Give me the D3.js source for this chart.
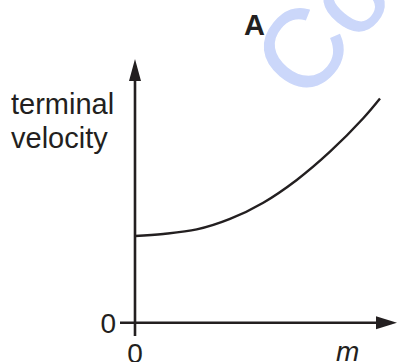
<!DOCTYPE html>
<html>
<head>
<meta charset="utf-8">
<script src="https://cdn.jsdelivr.net/npm/d3@7"></script>
<style>
  body { margin: 0; background: #fff; }
  svg { display: block; font-family: "Liberation Sans", Arial, sans-serif; }
</style>
</head>
<body>
<div id="chartDiv"></div>
<script>
// data (arbitrary units)
const massValues     = [0, 1.13, 2.47, 3.8, 5.13, 6.47, 7.8, 9.13, 9.8];
const velocityValues = [3.47, 3.55, 3.73, 4.15, 4.8, 5.71, 6.84, 8.18, 8.97];
const xTickLabels = ['0'];
const yTickLabels = ['0'];
const yLabelLines = ['terminal', 'velocity'];
const xLabel = 'm';
const graphLabel = 'A';
const watermark = 'Co';

const width = 397, height = 362;
const ink = '#231f20';

const svg = d3.select('#chartDiv').append('svg')
  .attr('width', width)
  .attr('height', height);

// scales
const xScale = d3.scaleLinear().domain([0, 10]).range([135, 385]);
const yScale = d3.scaleLinear().domain([0, 10]).range([322.7, 72.7]);

// watermark behind everything
svg.append('text')
  .attr('transform', 'translate(301.5,47.5) rotate(-50)')
  .attr('x', -41).attr('y', 40)
  .attr('font-size', 110)
  .attr('fill', '#cbd7fa')
  .attr('stroke', '#cbd7fa')
  .attr('stroke-width', 1.4)
  .text(watermark);

//axes
const x0 = xScale(0), y0 = yScale(0);
const xEnd = xScale(10.48), yEnd = yScale(10.55);

svg.append('line')
  .attr('x1', xScale(-0.6)).attr('y1', y0)
  .attr('x2', xEnd - 18).attr('y2', y0)
  .attr('stroke', ink).attr('stroke-width', 2.6);

svg.append('line')
  .attr('x1', x0).attr('y1', yScale(-0.53))
  .attr('x2', x0).attr('y2', yEnd + 18)
  .attr('stroke', ink).attr('stroke-width', 2.6);

// arrow heads
svg.append('path')
  .attr('d', `M${xEnd},${y0} L${xEnd - 21},${y0 - 6.5} L${xEnd - 21},${y0 + 6.5} Z`)
  .attr('fill', ink);
svg.append('path')
  .attr('d', `M${x0},${yEnd} L${x0 - 6},${yEnd + 22} L${x0 + 6},${yEnd + 22} Z`)
  .attr('fill', ink);

// curve
const points = massValues.map((m, i) => [m, velocityValues[i]]);
const lineFunc = d3.line()
  .x(d => xScale(d[0]))
  .y(d => yScale(d[1]))
  .curve(d3.curveCatmullRom);

svg.append('path')
  .datum(points)
  .attr('d', lineFunc)
  .attr('fill', 'none')
  .attr('stroke', ink)
  .attr('stroke-width', 2.4);

// tick labels
svg.selectAll('.xtick').data(xTickLabels).enter().append('text')
  .attr('class', 'xtick')
  .attr('x', x0).attr('y', 363)
  .attr('text-anchor', 'middle')
  .attr('font-size', 28).attr('fill', ink)
  .text(d => d);

svg.selectAll('.ytick').data(yTickLabels).enter().append('text')
  .attr('class', 'ytick')
  .attr('x', 116).attr('y', y0 + 10.5)
  .attr('text-anchor', 'end')
  .attr('font-size', 28).attr('fill', ink)
  .text(d => d);

// axis labels
svg.selectAll('.ylabel').data(yLabelLines).enter().append('text')
  .attr('class', 'ylabel')
  .attr('x', 11).attr('y', (d, i) => 113.5 + i * 34)
  .attr('font-size', 29).attr('fill', ink)
  .text(d => d);

svg.append('text')
  .attr('x', 336).attr('y', 361)
  .attr('font-size', 28).attr('font-style', 'italic').attr('fill', ink)
  .text(xLabel);

svg.append('text')
  .attr('x', 244).attr('y', 35)
  .attr('font-size', 29).attr('font-weight', 'bold').attr('fill', ink)
  .text(graphLabel);
</script>
</body>
</html>
